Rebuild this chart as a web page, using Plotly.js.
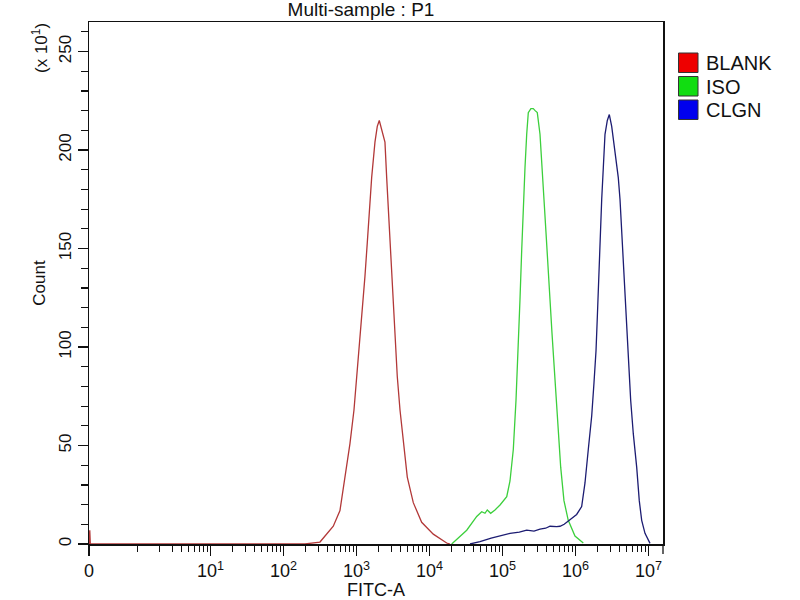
<!DOCTYPE html>
<html>
<head>
<meta charset="utf-8">
<script src="https://cdn.plot.ly/plotly-3.0.1.min.js"></script>
<style>html,body{margin:0;padding:0;background:#fff;}#chart{width:800px;height:600px;}</style>
</head>
<body>
<div id="chart"></div>
<script>
// ---- data (FITC-A intensity vs event count) ----
const seriesNames = ["BLANK", "ISO", "CLGN"];

const blankX = [0.218, 0.222, 0.226, 197, 316, 481, 594, 695, 814, 924,
  1006, 1117, 1216, 1307, 1406, 1497, 1614, 1791, 1927, 2052,
  2213, 2455, 2592, 2728, 2879, 3037, 3191, 3367, 3621, 3945,
  4376, 4963, 5999, 7816, 11270, 17200, 19100];
const blankY = [0, 7, 0, 0, 1, 9, 17, 34, 51, 68,
  85, 102, 119, 136, 153, 170, 186, 204, 212, 215,
  210, 204, 186, 170, 153, 136, 119, 102, 85, 68,
  51, 34, 21, 11, 5, 0.5, 0];

const isoX = [20140, 32360, 44360, 51900, 57540, 61900, 68900, 78900, 92500, 114300,
  126700, 140600, 153100, 164500, 173600, 183300, 192700, 203300, 214600, 225600,
  245000, 264000, 280000, 299700, 326400, 344500, 370000, 394500, 423800, 447600,
  476600, 507400, 540500, 580800, 626800, 695000, 796000, 984000, 1279000];
const isoY = [0, 7, 14, 16.4, 15.6, 17.3, 15.6, 17.3, 19.8, 24,
  32, 48, 73, 98, 124, 149, 175, 191, 208, 219,
  221, 221, 220, 219, 208, 191, 175, 158, 141, 124,
  107, 90, 73, 56, 39, 22, 12, 4, 0.5];

const clgnX = [35900, 49200, 70000, 92500, 126700, 170000, 214600, 270000, 326400, 390000,
  447600, 552500, 613300, 700000, 757300, 840400, 1037000, 1215000, 1349000, 1497000,
  1667000, 1793000, 1909000, 1990000, 2100000, 2166000, 2286000, 2404000, 2536000, 2728000,
  2906000, 3133000, 3477000, 3857000, 4070000, 4293000, 4518000, 4765000, 5025000, 5286000,
  5701000, 6190000, 6890000, 7475000, 8067000, 8954000, 9936000, 10490000];
const clgnY = [0, 1.2, 3, 4, 5.4, 6, 7, 6.5, 7.5, 8,
  9, 8.8, 9, 10, 11, 12, 15, 19, 31, 48,
  65, 82, 98, 115, 141, 154, 175, 191, 208, 215,
  218, 212, 200, 186, 175, 158, 141, 124, 107, 90,
  73, 56, 39, 22, 12, 5.4, 2, 0.3];

// axis ticks
const xZeroPos = Math.pow(10, -0.664);          // where the "0" label sits on the display scale
const xTickVals = [xZeroPos, 1e1, 1e2, 1e3, 1e4, 1e5, 1e6, 1e7];
const xTickText = ["0", "10<sup>1</sup>", "10<sup>2</sup>", "10<sup>3</sup>", "10<sup>4</sup>",
  "10<sup>5</sup>", "10<sup>6</sup>", "10<sup>7</sup>"];
const yTickVals = [0, 50, 100, 150, 200, 250];
const yTickText = ["0", "50", "100", "150", "200", "250"];

// ---- styling ----
const lineColors = ["#b23838", "#3ccf3c", "#1c1c72"];
const swatchColors = ["#ee0000", "#11dd11", "#0000ee"];

const xMinor = [];
for (let d = 0; d < 7; d++) {
  for (let m = 2; m <= 9; m++) xMinor.push(m * Math.pow(10, d));
}
xMinor.push(1);

const traces = [
  {x: blankX, y: blankY, name: seriesNames[0]},
  {x: isoX, y: isoY, name: seriesNames[1]},
  {x: clgnX, y: clgnY, name: seriesNames[2]}
].map((t, i) => Object.assign(t, {
  type: "scatter", mode: "lines", showlegend: false, hoverinfo: "skip",
  line: {color: lineColors[i], width: 1.3}
}));

// legend drawn as swatches + labels (right of plot)
const plotL = 89, plotR = 663, plotT = 22, plotB = 544;
const pw = plotR - plotL, ph = plotB - plotT;
const px2x = p => (p - plotL) / pw;
const py2y = p => (plotB - p) / ph;

const shapes = [];
const annotations = [];
seriesNames.forEach((n, i) => {
  const top = 53 + i * 23.5;
  shapes.push({type: "rect", xref: "paper", yref: "paper",
    x0: px2x(678.5), x1: px2x(698), y0: py2y(top + 19.5), y1: py2y(top),
    fillcolor: swatchColors[i], line: {color: "#333", width: 1}});
  annotations.push({xref: "paper", yref: "paper", x: px2x(704), y: py2y(top + 10),
    xanchor: "left", yanchor: "middle", showarrow: false, text: n,
    font: {family: "Liberation Sans, Arial, sans-serif", size: 20, color: "#111"}});
});
annotations.push({xref: "paper", yref: "paper", x: px2x(40), y: py2y(48),
  xanchor: "center", yanchor: "middle", showarrow: false, textangle: -90,
  text: "(x 10<sup>1</sup>)",
  font: {family: "Liberation Sans, Arial, sans-serif", size: 17, color: "#111"}});
// short tick under the right border, as in the reference
shapes.push({type: "line", xref: "paper", yref: "paper", x0: 1, x1: 1,
  y0: py2y(plotB + 10), y1: 0, line: {color: "#111", width: 1.3}});

const layout = {
  width: 800, height: 600,
  margin: {l: plotL, r: 800 - plotR, t: plotT, b: 600 - plotB},
  paper_bgcolor: "#fff", plot_bgcolor: "#fff",
  showlegend: false,
  title: {text: "Multi-sample : P1", x: 361 / 800, xref: "container", xanchor: "center",
    y: 1 - 9.5 / 600, yref: "container", yanchor: "middle",
    font: {family: "Liberation Sans, Arial, sans-serif", size: 19, color: "#111"}},
  xaxis: {
    type: "log", range: [-0.664, 1 + (plotR - 210.5) / 73],
    tickmode: "array", tickvals: xTickVals, ticktext: xTickText,
    ticks: "outside", ticklen: 10, tickwidth: 1.3, tickcolor: "#111",
    minor: {tickmode: "array", tickvals: xMinor, ticks: "outside", ticklen: 6, tickwidth: 1.2, tickcolor: "#111"},
    showgrid: false, zeroline: false,
    showline: true, linecolor: "#111", linewidth: 1.5, mirror: true,
    tickfont: {family: "Liberation Sans Narrow, Liberation Sans, Arial, sans-serif", size: 18, color: "#111"},
    title: {text: "FITC-A", standoff: 6,
      font: {family: "Liberation Sans Narrow, Liberation Sans, Arial, sans-serif", size: 18, color: "#111"}}
  },
  yaxis: {
    range: [0, 265],
    tickmode: "array", tickvals: yTickVals, ticktext: yTickText, tickangle: -90,
    ticks: "outside", ticklen: 10, tickwidth: 1.3, tickcolor: "#111",
    minor: {tickmode: "linear", tick0: 0, dtick: 10, ticks: "outside", ticklen: 7, tickwidth: 1.2, tickcolor: "#111"},
    showgrid: false, zeroline: false,
    showline: true, linecolor: "#111", linewidth: 1.5, mirror: true,
    tickfont: {family: "Liberation Sans, Arial, sans-serif", size: 17, color: "#111"},
    title: {text: "Count", standoff: 6,
      font: {family: "Liberation Sans, Arial, sans-serif", size: 17, color: "#111"}}
  },
  shapes: shapes,
  annotations: annotations
};

Plotly.newPlot("chart", traces, layout, {staticPlot: true, displayModeBar: false});
</script>
</body>
</html>
